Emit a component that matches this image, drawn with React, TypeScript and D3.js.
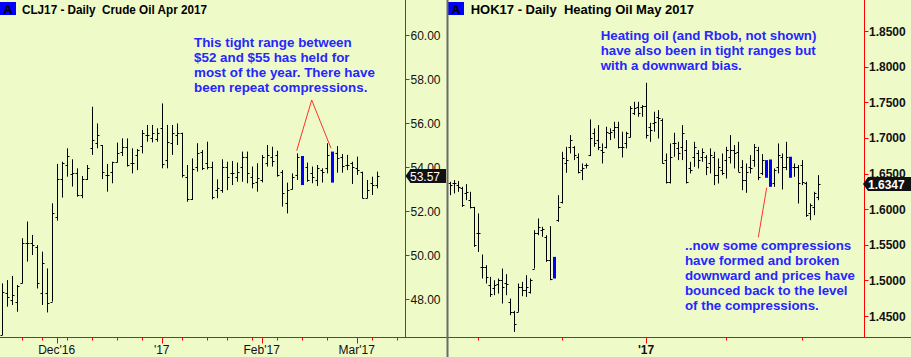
import React from "react";
import * as d3 from "d3";

// ---------- Crude oil (CLJ17) daily OHLC ----------
const crudeOpen = [46.36,48.26,47.95,47.88,48.74,50.53,50.53,50.38,48.26,48.26,47.88,51.74,53.44,54.09,53.68,53.71,52.73,53.45,54.85,55.08,55.00,53.64,53.79,54.24,54.70,54.92,54.17,54.55,54.95,55.45,55.30,55.26,55.76,54.32,55.11,55.45,55.53,53.56,52.53,54.02,54.70,54.17,54.02,52.95,52.95,54.02,53.71,53.56,54.02,54.47,53.56,53.33,53.41,54.17,54.47,54.55,53.79,52.35,52.98,53.64,54.32,54.02,53.71,53.41,53.86,53.94,54.55,54.62,54.47,54.09,54.17,53.94,53.79,52.61,53.26,53.18];
const crudeHigh = [48.71,48.86,49.05,48.64,50.76,51.52,50.91,50.45,50.15,49.39,52.35,54.14,54.24,54.85,54.35,53.94,53.59,54.09,56.74,55.98,55.00,54.14,54.24,55.11,55.30,55.30,54.85,54.82,55.68,55.91,55.91,55.76,56.89,55.91,55.91,55.98,55.56,54.09,54.39,55.08,54.77,55.15,54.24,53.44,54.35,54.24,54.27,54.20,54.70,54.70,54.02,54.17,54.55,55.00,54.92,54.74,53.86,53.29,53.71,54.62,54.50,54.20,54.02,54.09,53.94,55.08,54.70,54.95,54.59,54.55,54.24,54.47,53.79,53.41,53.56,53.79];
const crudeLow = [46.36,47.65,47.73,47.42,48.71,49.70,50.00,48.48,47.73,47.39,47.88,51.56,52.61,53.56,53.11,52.65,52.58,53.41,54.55,54.85,53.45,52.88,53.26,54.21,54.50,54.02,53.71,53.86,54.62,55.15,55.12,55.15,53.94,53.94,54.55,55.00,53.52,52.42,52.50,53.79,53.86,53.89,52.53,52.58,52.83,52.95,53.18,53.33,53.33,53.26,53.03,52.88,53.30,54.02,54.02,53.56,52.20,51.89,52.98,53.41,53.18,53.33,53.26,53.14,53.29,53.71,53.29,53.74,53.74,53.86,53.23,53.64,52.58,52.58,52.73,53.03];
const crudeClose = [48.33,48.11,48.18,48.59,50.56,50.53,50.45,48.71,49.62,47.80,51.89,53.44,54.20,54.50,53.71,52.73,53.45,53.94,55.23,55.45,53.79,53.64,54.24,54.62,54.92,54.09,54.17,54.77,55.53,55.45,55.53,55.53,54.14,55.15,55.53,55.53,53.64,52.53,53.89,54.65,53.94,54.02,52.65,53.03,54.02,53.56,53.71,53.79,54.47,53.71,53.26,53.48,54.47,54.55,54.29,53.64,52.80,52.95,53.56,54.47,53.41,53.41,53.56,53.94,53.79,54.55,53.56,54.39,54.05,54.09,54.02,53.86,52.61,52.95,53.18,53.57];
const crudeCompressions = [60, 66];
const crudeTicks = [48, 50, 52, 54, 56, 58, 60];
const crudeMinorX = [4, 8, 13, 18, 23, 28, 36, 41, 45, 50, 55, 60, 65, 74, 79];
const crudeMajorX = [11, 32, 52, 71];
const crudeMonthLabels = ["Dec'16", "'17", "Feb'17", "Mar'17"];

// ---------- Heating oil (HOK17) daily OHLC ----------
const hoOpen = [1.6360,1.6360,1.6337,1.6290,1.6220,1.6126,1.6023,1.5658,1.5190,1.5190,1.4932,1.4899,1.4956,1.5002,1.4965,1.4698,1.4558,1.4558,1.4909,1.4862,1.4839,1.5166,1.5658,1.5705,1.5611,1.5283,1.5283,1.5845,1.6103,1.6641,1.6875,1.6875,1.6735,1.6547,1.6618,1.6758,1.7062,1.6969,1.6828,1.6875,1.7062,1.7109,1.7156,1.6875,1.6922,1.7016,1.7343,1.7437,1.7437,1.7446,1.7156,1.7203,1.7296,1.7250,1.6688,1.6384,1.6922,1.6852,1.6875,1.6828,1.6571,1.6735,1.6781,1.6735,1.6735,1.6641,1.6735,1.6477,1.6547,1.6688,1.6735,1.6828,1.6805,1.6594,1.6407,1.6594,1.6688,1.6828,1.6501,1.6660,1.6680,1.6360,1.6594,1.6735,1.6594,1.6720,1.6594,1.6594,1.6618,1.6360,1.5939,1.6032,1.6173];
const hoHigh = [1.6384,1.6407,1.6393,1.6313,1.6351,1.6243,1.6032,1.5939,1.5363,1.5213,1.5049,1.5002,1.5026,1.5166,1.5087,1.4745,1.4572,1.4956,1.4979,1.5073,1.5026,1.5705,1.5869,1.5752,1.5634,1.5761,1.5330,1.6196,1.6805,1.6875,1.7039,1.6884,1.6781,1.6641,1.6641,1.7259,1.7133,1.7179,1.6922,1.7156,1.7133,1.7226,1.7226,1.7086,1.7086,1.7446,1.7507,1.7507,1.7460,1.7774,1.7212,1.7367,1.7390,1.7273,1.6781,1.6922,1.7072,1.6945,1.7179,1.6969,1.6664,1.6945,1.6828,1.6852,1.6758,1.6852,1.6805,1.6711,1.6781,1.6875,1.7039,1.6899,1.6945,1.6688,1.6641,1.6758,1.6913,1.6875,1.6772,1.6688,1.6697,1.6571,1.6922,1.6781,1.6945,1.6735,1.6641,1.6618,1.6688,1.6384,1.6079,1.6243,1.6477];
const hoLow = [1.6196,1.6220,1.6243,1.6032,1.6126,1.6009,1.5471,1.5400,1.5026,1.4956,1.4768,1.4792,1.4815,1.4675,1.4792,1.4511,1.4277,1.4558,1.4778,1.4768,1.4815,1.5166,1.5634,1.5611,1.5260,1.5002,1.5026,1.5822,1.6079,1.6510,1.6781,1.6688,1.6501,1.6407,1.6571,1.6744,1.6875,1.6828,1.6641,1.6852,1.6969,1.6992,1.6852,1.6725,1.6852,1.7006,1.7320,1.7296,1.7296,1.6992,1.6945,1.7086,1.6992,1.6641,1.6360,1.6360,1.6735,1.6688,1.6688,1.6360,1.6501,1.6594,1.6571,1.6664,1.6477,1.6501,1.6337,1.6360,1.6477,1.6430,1.6641,1.6571,1.6524,1.6266,1.6229,1.6501,1.6594,1.6407,1.6477,1.6440,1.6313,1.6313,1.6501,1.6276,1.6547,1.6440,1.6454,1.6079,1.6337,1.5892,1.5845,1.5915,1.6126];
const hoClose = [1.6337,1.6369,1.6313,1.6056,1.6243,1.6023,1.5494,1.5658,1.5190,1.5049,1.4815,1.4932,1.5002,1.4909,1.4956,1.4558,1.4394,1.4909,1.4862,1.4909,1.5002,1.5658,1.5752,1.5728,1.5283,1.5026,1.5049,1.6032,1.6711,1.6688,1.6969,1.6758,1.6524,1.6571,1.6618,1.6992,1.6922,1.6875,1.6805,1.7086,1.7086,1.7156,1.6875,1.6875,1.7062,1.7413,1.7413,1.7343,1.7446,1.7039,1.7109,1.7226,1.7273,1.6641,1.6384,1.6735,1.6922,1.6781,1.7062,1.6384,1.6547,1.6875,1.6688,1.6805,1.6594,1.6758,1.6477,1.6594,1.6501,1.6828,1.6828,1.6781,1.6524,1.6407,1.6524,1.6571,1.6875,1.6454,1.6688,1.6450,1.6330,1.6547,1.6758,1.6594,1.6735,1.6450,1.6594,1.6360,1.6384,1.5915,1.6056,1.6220,1.6347];
const hoCompressions = [26, 79, 80, 85];
const hoTicks = [1.45, 1.5, 1.55, 1.6, 1.65, 1.7, 1.75, 1.8, 1.85];
const hoMinorX = [7, 28, 69, 88];
const hoMajorX = [49];
const hoMonthLabels = ["'17"];

const crudeNote = ["This tight range between", "$52 and $55 has held for", "most of the year. There have", "been repeat compressions."];
const hoNoteTop = ["Heating oil (and Rbob, not shown)", "have also been in tight ranges but", "with a downward bias."];
const hoNoteBottom = ["..now some compressions", "have formed and broken", "downward and prices have", "bounced back to the level", "of the compressions."];

const FONT = "'Liberation Sans', Arial, Helvetica, sans-serif";
const BG = "#EEFBC8";
const NOTE = "#2626FF";
const AXIS = "#FF0000";

type Panel = {
  open: number[]; high: number[]; low: number[]; close: number[];
  comp: number[]; x: d3.ScaleLinear<number, number>; y: d3.ScaleLinear<number, number>;
  tick: number;
};

function Bars({ open, high, low, close, comp, x, y, tick }: Panel) {
  return (
    <g>
      {open.map((o, i) => {
        const px = Math.round(x(i)) + 0.5;
        if (comp.includes(i)) {
          return (
            <rect key={i} x={Math.round(x(i)) - 1} y={y(high[i])} width={3}
              height={y(low[i]) - y(high[i])} fill="#0000FF" />
          );
        }
        return (
          <g key={i} stroke="#000" strokeWidth={1}>
            <line x1={px} x2={px} y1={y(high[i])} y2={y(low[i])} />
            <line x1={px - tick} x2={px} y1={Math.round(y(o)) + 0.5} y2={Math.round(y(o)) + 0.5} />
            <line x1={px} x2={px + tick} y1={Math.round(y(close[i])) + 0.5} y2={Math.round(y(close[i])) + 0.5} />
          </g>
        );
      })}
    </g>
  );
}

export default function App() {
  const W = 911, H = 357;
  const baseY = 337.5;

  const xL = d3.scaleLinear().domain([0, 75]).range([1.7, 376.7]);
  const yL = d3.scaleLinear().domain([48, 60]).range([299, 35]);
  const xR = d3.scaleLinear().domain([0, 92]).range([450, 818]);
  const yR = d3.scaleLinear().domain([1.45, 1.85]).range([316, 31]);

  const axisL = 405.5, axisR = 864.5, sep = 447.5;
  const fmtL = d3.format(".2f"), fmtR = d3.format(".4f");

  const lastL = crudeClose[crudeClose.length - 1];
  const lastR = hoClose[hoClose.length - 1];
  const flag = (x0: number, x1: number, yc: number) =>
    `M${x0},${yc} L${x0 + 5},${yc - 7} L${x1},${yc - 7} L${x1},${yc + 7} L${x0 + 5},${yc + 7} Z`;

  return (
    <svg width={W} height={H} style={{ position: "absolute", left: 0, top: 0, display: "block" }}
      fontFamily={FONT}>
      <rect x={0} y={0} width={W} height={H} fill={BG} />

      {/* ---------- Left panel ---------- */}
      <rect x={0} y={2} width={16} height={13} fill="#0000FF" />
      <text x={8} y={13.5} textAnchor="middle" fontSize={13} fontWeight="bold" fill="#000">A</text>
      <text x={22} y={13.5} fontSize={12.5} fontWeight="bold" fill="#000" textLength={185}
        lengthAdjust="spacingAndGlyphs" style={{ whiteSpace: "pre" }}>
        CLJ17 - Daily  Crude Oil Apr 2017
      </text>

      {crudeNote.map((t, i) => (
        <text key={i} x={194} y={46.5 + i * 15} fontSize={13.4} fontWeight="bold" fill={NOTE}>{t}</text>
      ))}
      <polyline points="296.7,150.7 311.7,100 331,148.3" fill="none" stroke="#FF3030" strokeWidth={1} />

      <Bars open={crudeOpen} high={crudeHigh} low={crudeLow} close={crudeClose}
        comp={crudeCompressions} x={xL} y={yL} tick={2} />

      <line x1={axisL} x2={axisL} y1={0} y2={baseY} stroke={AXIS} />
      {crudeTicks.map((v) => (
        <g key={v}>
          <line x1={axisL} x2={axisL + 4} y1={Math.round(yL(v)) + 0.5} y2={Math.round(yL(v)) + 0.5} stroke={AXIS} />
          <text x={410.5} y={yL(v) + 4.5} fontSize={12} fill="#111">{fmtL(v)}</text>
        </g>
      ))}
      <path d={flag(axisL, 446, Math.round(yL(lastL)))} fill="#111" />
      <text x={410} y={Math.round(yL(lastL)) + 4.5} fontSize={12} fill="#fff">{fmtL(lastL)}</text>

      {crudeMinorX.map((i) => (
        <line key={i} x1={Math.round(xL(i)) + 0.5} x2={Math.round(xL(i)) + 0.5} y1={baseY} y2={baseY + 3} stroke={AXIS} />
      ))}
      {crudeMajorX.map((i, k) => (
        <g key={i}>
          <line x1={Math.round(xL(i)) + 0.5} x2={Math.round(xL(i)) + 0.5} y1={baseY} y2={baseY + 6} stroke={AXIS} />
          <text x={xL(i)} y={353.5} textAnchor="middle" fontSize={12} fill="#111">{crudeMonthLabels[k]}</text>
        </g>
      ))}

      {/* ---------- Right panel ---------- */}
      <rect x={448} y={2} width={16} height={13} fill="#0000FF" />
      <text x={456} y={13.5} textAnchor="middle" fontSize={13} fontWeight="bold" fill="#000">A</text>
      <text x={470.7} y={13.5} fontSize={13} fontWeight="bold" fill="#000" style={{ whiteSpace: "pre" }}>
        HOK17 - Daily  Heating Oil May 2017
      </text>

      {hoNoteTop.map((t, i) => (
        <text key={i} x={600.7} y={39.5 + i * 15} fontSize={13.3} fontWeight="bold" fill={NOTE}>{t}</text>
      ))}
      {hoNoteBottom.map((t, i) => (
        <text key={i} x={685} y={249.5 + i * 15} fontSize={13.3} fontWeight="bold" fill={NOTE}>{t}</text>
      ))}
      <line x1={758.3} y1={237.3} x2={766.7} y2={187.7} stroke="#FF3030" strokeWidth={1} />

      <Bars open={hoOpen} high={hoHigh} low={hoLow} close={hoClose}
        comp={hoCompressions} x={xR} y={yR} tick={2} />

      <line x1={axisR} x2={axisR} y1={0} y2={baseY} stroke={AXIS} />
      {hoTicks.map((v) => (
        <g key={v}>
          <line x1={axisR} x2={axisR + 4} y1={Math.round(yR(v)) + 0.5} y2={Math.round(yR(v)) + 0.5} stroke={AXIS} />
          <text x={869} y={yR(v) + 4.5} fontSize={12} fontWeight="bold" fill="#111">{fmtR(v)}</text>
        </g>
      ))}
      <path d={flag(863, 911, Math.round(yR(lastR)))} fill="#111" />
      <text x={868} y={Math.round(yR(lastR)) + 4.5} fontSize={12} fontWeight="bold" fill="#fff">{fmtR(lastR)}</text>

      {hoMinorX.map((i) => (
        <line key={i} x1={Math.round(xR(i)) + 0.5} x2={Math.round(xR(i)) + 0.5} y1={baseY} y2={baseY + 3} stroke={AXIS} />
      ))}
      {hoMajorX.map((i, k) => (
        <g key={i}>
          <line x1={Math.round(xR(i)) + 0.5} x2={Math.round(xR(i)) + 0.5} y1={baseY} y2={baseY + 6} stroke={AXIS} />
          <text x={xR(i)} y={353.5} textAnchor="middle" fontSize={12} fontWeight="bold" fill="#111">{hoMonthLabels[k]}</text>
        </g>
      ))}

      {/* ---------- Frame ---------- */}
      <line x1={0} x2={W} y1={baseY} y2={baseY} stroke={AXIS} />
      <line x1={sep} x2={sep} y1={0} y2={H} stroke="#6A6A6A" strokeWidth={2} />
    </svg>
  );
}
